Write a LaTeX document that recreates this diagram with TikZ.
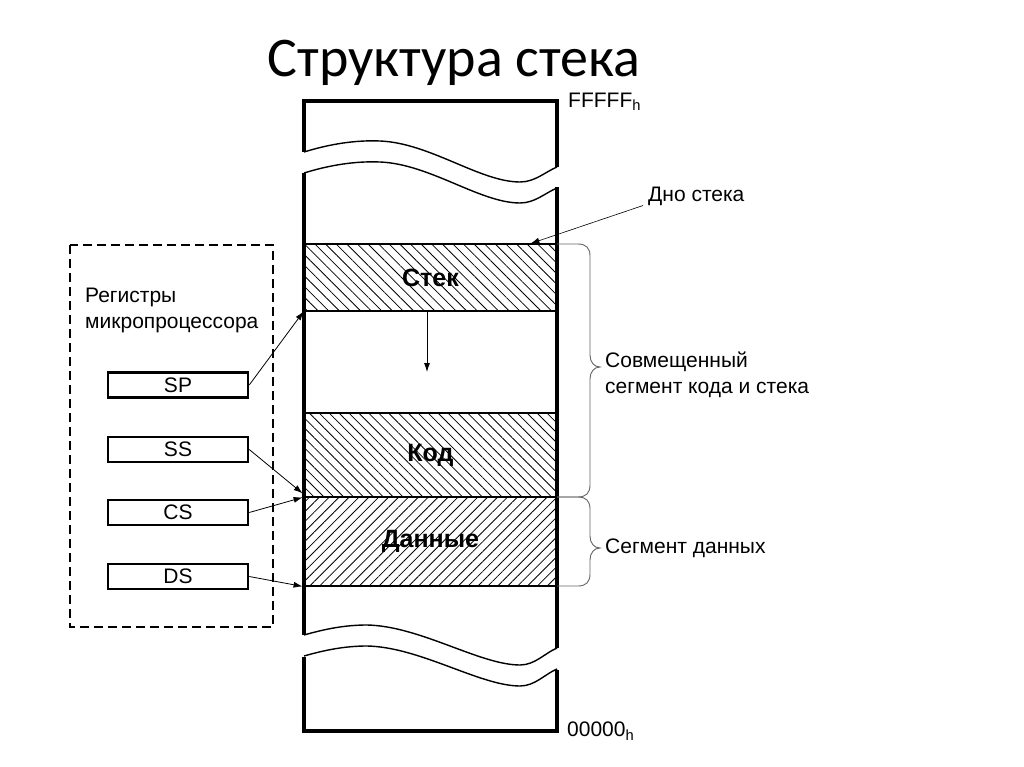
\documentclass[tikz,border=0pt]{standalone}
\usepackage{fontspec}
\setmainfont{Liberation Sans}
\newfontfamily\titlefont{Carlito}
\usetikzlibrary{arrows.meta,patterns.meta}

\tikzset{
  wall/.style={line width=3.5pt},
  wave/.style={line width=1.4pt},
  band/.style={draw, line width=1.6pt, minimum width=253pt, inner sep=0pt,
    font=\fontsize{25}{25}\selectfont\bfseries},
  reg/.style={draw, line width=2.5pt, minimum width=140pt, minimum height=25pt,
    inner sep=0pt, font=\fontsize{21}{21}\selectfont},
  ptr/.style={-{Latex[length=9pt,width=6pt]}, line width=0.8pt},
  brc/.style={black!60, line width=0.9pt},
  lbl/.style={font=\fontsize{21}{26}\selectfont, align=left, inner sep=0pt}
}

\begin{document}
\begin{tikzpicture}[x=1pt,y=-1pt]
\useasboundingbox (0,0) rectangle (1024,767);

\node[font=\titlefont\fontsize{56}{56}\selectfont, anchor=base, inner sep=0pt] (title) at (454,77) {Структура стека};

% segments of memory
\node[band, minimum height=67pt,
  pattern={Lines[angle=-45,distance=7.5pt,line width=0.8pt]}] (stek) at (430.5,277.5) {Стек};
\node[band, minimum height=84pt,
  pattern={Lines[angle=-45,distance=7pt,line width=0.8pt]}] (kod) at (430.5,455) {Код};
\node[band, minimum height=89pt,
  pattern={Lines[angle=45,distance=7pt,line width=0.8pt]}] (dann) at (430.5,541.5) {Данные};

% column walls
\draw[wall] (304,152) -- (304,101) -- (557,101) -- (557,167);
\draw[wall] (304,173) -- (304,635);
\draw[wall] (557,187) -- (557,648);
\draw[wall] (304,657) -- (304,731) -- (557,731) -- (557,670);

% breaks
\foreach \dy in {0,21} {
  \draw[wave] (304,152+\dy) .. controls (330,144+\dy) and (355,140+\dy) .. (380,141+\dy)
    .. controls (430,143+\dy) and (480,182+\dy) .. (520,182+\dy)
    .. controls (535,182+\dy) and (545,172+\dy) .. (557,167+\dy);
  \draw[wave] (304,635+\dy) .. controls (325,629+\dy) and (345,625+\dy) .. (367,625+\dy)
    .. controls (420,626+\dy) and (480,665+\dy) .. (520,665+\dy)
    .. controls (535,665+\dy) and (545,653+\dy) .. (557,648+\dy);
}

\node[lbl, anchor=west] (top) at (568,102) {FFFFF\textsubscript{h}};
\node[lbl, anchor=west] (bot) at (567,731) {00000\textsubscript{h}};

\coordinate (grow) at (427,372);
\draw[ptr] (stek.south -| grow) -- (grow);

% bottom of stack
\node[lbl, anchor=west] (dno) at (648,196) {Дно стека};
\draw[ptr, line width=0.6pt] ([xshift=-5pt]dno.south west) -- ([xshift=-27pt]stek.north east);

% braces
\draw[brc] (557,244) -- (578,244) .. controls (586,244) and (590,248) .. (590,256) -- (590,355)
  .. controls (590,362) and (594,367) .. (600,367) .. controls (594,367) and (590,372) .. (590,379)
  -- (590,485) .. controls (590,493) and (586,497) .. (578,497) -- (557,497);
\draw[brc] (557,497) -- (578,497) .. controls (586,497) and (590,501) .. (590,509) -- (590,536)
  .. controls (590,543) and (594,548) .. (600,548) .. controls (594,548) and (590,553) .. (590,560)
  -- (590,574) .. controls (590,582) and (586,586) .. (578,586) -- (557,586);
\node[lbl, anchor=west] (sovm) at (605,375) {Совмещенный\\сегмент кода и стека};
\node[lbl, anchor=west] (segd) at (605,548) {Сегмент данных};

% registers
\draw[dashed, line width=1.8pt, dash pattern=on 9pt off 5pt] (70,245) rectangle (273,627);
\node[lbl, anchor=west] (regs) at (85,310) {Регистры\\микропроцессора};
\node[reg] (sp) at (178,385) {SP};
\node[reg] (ss) at (178,449.5) {SS};
\node[reg] (cs) at (178,512.5) {CS};
\node[reg] (ds) at (178,576.5) {DS};

\draw[ptr] (sp.east) -- (stek.south west);
\draw[ptr] (ss.east) -- ([xshift=-1pt,yshift=4pt]kod.south west);
\draw[ptr] (cs.east) -- ([xshift=-1pt]kod.south west);
\draw[ptr] (ds.east) -- ([xshift=-1pt]dann.south west);

\end{tikzpicture}
\end{document}
